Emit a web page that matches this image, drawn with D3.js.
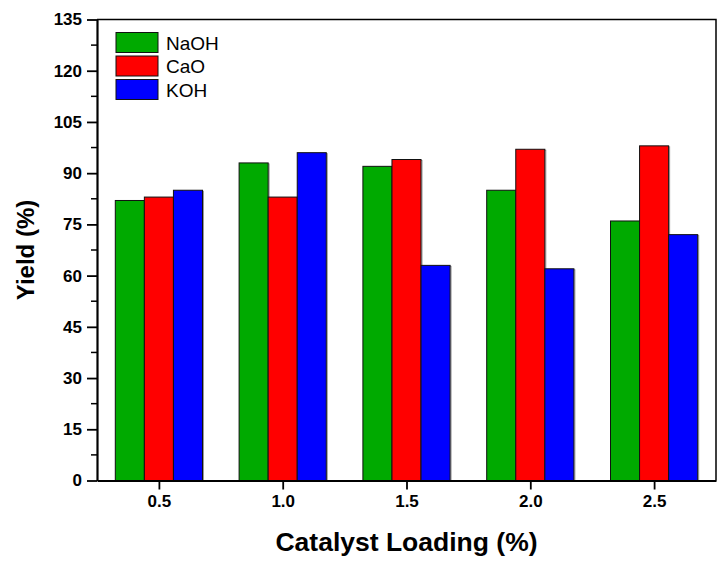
<!DOCTYPE html>
<html>
<head>
<meta charset="utf-8">
<script src="https://cdn.jsdelivr.net/npm/d3@7"></script>
<style>
  body { margin: 0; background: #fff; }
  svg { display: block; font-family: "Liberation Sans", Arial, sans-serif; }
</style>
</head>
<body>
<div id="chart"></div>
<script>
'use strict';

const loadings = [0.5, 1.0, 1.5, 2.0, 2.5];
const seriesNames = ['NaOH', 'CaO', 'KOH'];
const naoh = [82, 93, 92, 85, 76];
const cao = [83, 83, 94, 97, 98];
const koh = [85, 96, 63, 62, 72];
const yTicks = [0, 15, 30, 45, 60, 75, 90, 105, 120, 135];
const xTicks = [0.5, 1.0, 1.5, 2.0, 2.5];

const colors = ['#00aa00', '#ff0000', '#0000ff'];
const values = [naoh, cao, koh];

const width = 721;
const height = 562;
const plot = {left: 97, right: 716, top: 19.5, bottom: 480.5};

const svg = d3.select('#chart').append('svg')
    .attr('width', width)
    .attr('height', height);

const x = d3.scaleLinear()
    .domain([0.25, 2.75])
    .range([plot.left, plot.right]);

const y = d3.scaleLinear()
    .domain([0, 135])
    .range([plot.bottom, plot.top]);

// offsets of each series inside a group, in pixels
const sub = d3.scaleBand()
    .domain(seriesNames)
    .range([-43.6, 43.6]);

// bars
var rows = [];
for (var i = 0; i < loadings.length; ++i) {
    for (var s = 0; s < seriesNames.length; ++s) {
        rows.push({x: loadings[i], name: seriesNames[s], v: values[s][i], c: colors[s]});
    }
}

const bars = svg.append('g');
bars.selectAll('rect.shadow').data(rows).enter().append('rect')
    .attr('class', 'shadow')
    .attr('x', d => x(d.x) + sub(d.name) + 1)
    .attr('y', d => y(d.v) + 1)
    .attr('width', sub.bandwidth())
    .attr('height', d => y(0) - y(d.v))
    .attr('fill', 'none')
    .attr('stroke', '#999')
    .attr('stroke-width', 1);
bars.selectAll('rect.bar').data(rows).enter().append('rect')
    .attr('class', 'bar')
    .attr('x', d => x(d.x) + sub(d.name))
    .attr('y', d => y(d.v))
    .attr('width', sub.bandwidth())
    .attr('height', d => y(0) - y(d.v))
    .attr('fill', d => d.c)
    .attr('stroke', '#111')
    .attr('stroke-width', 1);

// frame (top + right)
svg.append('path')
    .attr('d', 'M' + plot.left + ',' + plot.top + 'H' + plot.right + 'V' + plot.bottom)
    .attr('fill', 'none')
    .attr('stroke', '#000')
    .attr('stroke-width', 1.5);

function styleTicks(g) {
    g.select('.domain').attr('stroke-width', 2.2);
    g.selectAll('.tick line').attr('stroke-width', 1.8);
    g.selectAll('.tick text')
        .attr('font-size', 17).attr('font-weight', 'bold')
        .attr('font-family', '"Liberation Sans", Arial, sans-serif').attr('fill', '#000');
}

// y axis
const yAxis = svg.append('g')
    .attr('transform', 'translate(' + plot.left + ',0)');
yAxis.selectAll('line.minor')
    .data(d3.range(7.5, 135, 15))
    .enter().append('line')
    .attr('x1', -6).attr('x2', 0)
    .attr('y1', d => y(d)).attr('y2', d => y(d))
    .attr('stroke', '#000').attr('stroke-width', 1.5);
yAxis.call(d3.axisLeft(y).tickValues(yTicks).tickSize(10).tickSizeOuter(0).tickPadding(5))
    .call(styleTicks);

// x axis
svg.append('g')
    .attr('transform', 'translate(0,' + plot.bottom + ')')
    .call(d3.axisBottom(x).tickValues(xTicks).tickFormat(d3.format('.1f'))
        .tickSize(9).tickSizeOuter(0).tickPadding(5))
    .call(styleTicks);

// axis titles
svg.append('text')
    .attr('x', (plot.left + plot.right) / 2)
    .attr('y', 551)
    .attr('text-anchor', 'middle')
    .attr('font-size', 26.5)
    .attr('font-weight', 'bold')
    .text('Catalyst Loading (%)');

svg.append('text')
    .attr('transform', 'translate(34,' + (plot.top + plot.bottom) / 2 + ') rotate(-90)')
    .attr('text-anchor', 'middle')
    .attr('font-size', 24)
    .attr('font-weight', 'bold')
    .text('Yield (%)');

// legend
const legend = svg.append('g').attr('transform', 'translate(116,32.5)');
const item = legend.selectAll('g').data(seriesNames).enter().append('g')
    .attr('transform', (d, i) => 'translate(0,' + i * 23.5 + ')');
item.append('rect')
    .attr('width', 42).attr('height', 20)
    .attr('fill', (d, i) => colors[i])
    .attr('stroke', '#111').attr('stroke-width', 1);
item.append('text')
    .attr('x', 50).attr('y', 17)
    .attr('font-size', 19)
    .text(d => d);
</script>
</body>
</html>
